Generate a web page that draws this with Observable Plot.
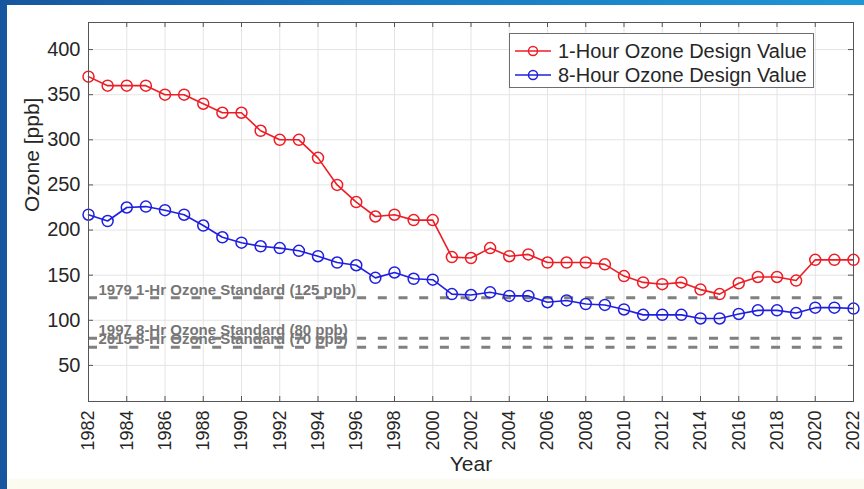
<!DOCTYPE html>
<html><head><meta charset="utf-8">
<script src="https://cdn.jsdelivr.net/npm/d3@7"></script>
<script src="https://cdn.jsdelivr.net/npm/@observablehq/plot@0.6"></script>
<style>
html,body{margin:0;padding:0;}
body{width:864px;height:489px;overflow:hidden;font-family:"Liberation Sans",Arial,sans-serif;}
#wrap{position:relative;width:864px;height:489px;background:linear-gradient(90deg,#17569e 0%,#1a78c0 45%,#1e96d6 100%);}
#panel{position:absolute;left:7px;top:5px;right:0;bottom:0;background:#fff;}
#cream{position:absolute;left:7px;right:0;bottom:0;height:10px;background:#fcfbf0;}
#chart{position:absolute;left:0;top:0;}
#legend{position:absolute;left:509px;top:33px;width:303px;height:53px;border:1px solid #6e6e6e;background:#fff;color:#262626;font-size:20px;}
.row{position:absolute;left:0;height:24px;width:100%;}
.row svg{position:absolute;left:4px;top:2px;}
.row span{position:absolute;left:48px;top:0;line-height:24px;white-space:nowrap;}
</style>
</head><body>
<div id="wrap"><div id="panel"></div><div id="cream"></div><div id="chart"></div>
<div id="legend"></div></div>
<script>
const years = [1982,1983,1984,1985,1986,1987,1988,1989,1990,1991,1992,1993,1994,1995,1996,1997,1998,1999,2000,2001,2002,2003,2004,2005,2006,2007,2008,2009,2010,2011,2012,2013,2014,2015,2016,2017,2018,2019,2020,2021,2022];
const oneHour = [370,360,360,360,350,350,340,330,330,310,300,300,280,250,231,215,217,211,211,170,169,180,171,173,164,164,164,162,149,142,140,142,134,129,141,148,148,144,167,167,167];
const eightHour = [217,210,225,226,222,217,205,192,186,182,180,177,171,164,161,147,153,146,145,129,128,131,127,127,120,122,118,117,112,106,106,106,102,102,107,111,111,108,114,114,113];
const seriesNames = ["1-Hour Ozone Design Value","8-Hour Ozone Design Value"];
const seriesColors = ["#ee1c24","#1f1fe0"];
const standardValues = [125,80,70];
const standardLabels = ["1979 1-Hr Ozone Standard (125 ppb)","1997 8-Hr Ozone Standard (80 ppb)","2015 8-Hr Ozone Standard (70 ppb)"];
const xTicks = [1982,1984,1986,1988,1990,1992,1994,1996,1998,2000,2002,2004,2006,2008,2010,2012,2014,2016,2018,2020,2022];
const yTicks = [50,100,150,200,250,300,350,400];

const rows = years.map((y,i)=>({year:y, one:oneHour[i], eight:eightHour[i]}));
const standards = standardValues.map((v,i)=>({value:v, label:standardLabels[i]}));
const axisColor = "#555";

const chart = Plot.plot({
  width: 864, height: 489,
  marginLeft: 88, marginRight: 11, marginTop: 22, marginBottom: 88,
  style: {background:"transparent", fontFamily:"'Liberation Sans', Arial, sans-serif", color:"#262626"},
  x: {domain:[1982,2022]},
  y: {domain:[10,430]},
  marks: [
    Plot.ruleX(xTicks, {stroke:"#e4e4e4"}),
    Plot.ruleY(yTicks, {stroke:"#e4e4e4"}),
    Plot.text(standards, {x:1982, y:"value", text:"label", textAnchor:"start", lineAnchor:"bottom", dx:10, dy:-3, fill:"#767676", fontWeight:"bold", fontSize:15}),
    Plot.ruleY(standards, {y:"value", stroke:"#808080", strokeWidth:3, strokeDasharray:"9,11.7"}),
    Plot.line(rows, {x:"year", y:"one", stroke:seriesColors[0], strokeWidth:1.6}),
    Plot.dot(rows, {x:"year", y:"one", r:5.5, stroke:seriesColors[0], strokeWidth:1.5, fill:"none"}),
    Plot.line(rows, {x:"year", y:"eight", stroke:seriesColors[1], strokeWidth:1.6}),
    Plot.dot(rows, {x:"year", y:"eight", r:5.5, stroke:seriesColors[1], strokeWidth:1.5, fill:"none"}),
    Plot.frame({stroke:axisColor}),
    Plot.ruleX(xTicks, {stroke:axisColor, insetTop:374}),
    Plot.ruleX(xTicks, {stroke:axisColor, insetBottom:374}),
    Plot.ruleY(yTicks, {stroke:axisColor, insetRight:760}),
    Plot.ruleY(yTicks, {stroke:axisColor, insetLeft:760}),
    Plot.axisX(xTicks, {tickSize:0, tickPadding:9, tickRotate:-90, fontSize:18, tickFormat:d=>String(d), label:null}),
    Plot.axisY(yTicks, {tickSize:0, tickPadding:8, fontSize:20, label:null}),
    Plot.text(["Year"], {frameAnchor:"bottom", dy:69, fontSize:21}),
    Plot.text(["Ozone [ppb]"], {frameAnchor:"left", dx:-56, rotate:-90, fontSize:21})
  ]
});
document.getElementById("chart").appendChild(chart);

const legend = document.getElementById("legend");
seriesNames.forEach((name,i)=>{
  const row = document.createElement("div");
  row.className = "row";
  row.style.top = (i===0 ? 5 : 29) + "px";
  row.innerHTML = `<svg width="40" height="20"><line x1="1" y1="10" x2="37" y2="10" stroke="${seriesColors[i]}" stroke-width="1.6"/><circle cx="19" cy="10" r="4.5" fill="none" stroke="${seriesColors[i]}" stroke-width="1.5"/></svg><span>${name}</span>`;
  legend.appendChild(row);
});
</script>
</body></html>
